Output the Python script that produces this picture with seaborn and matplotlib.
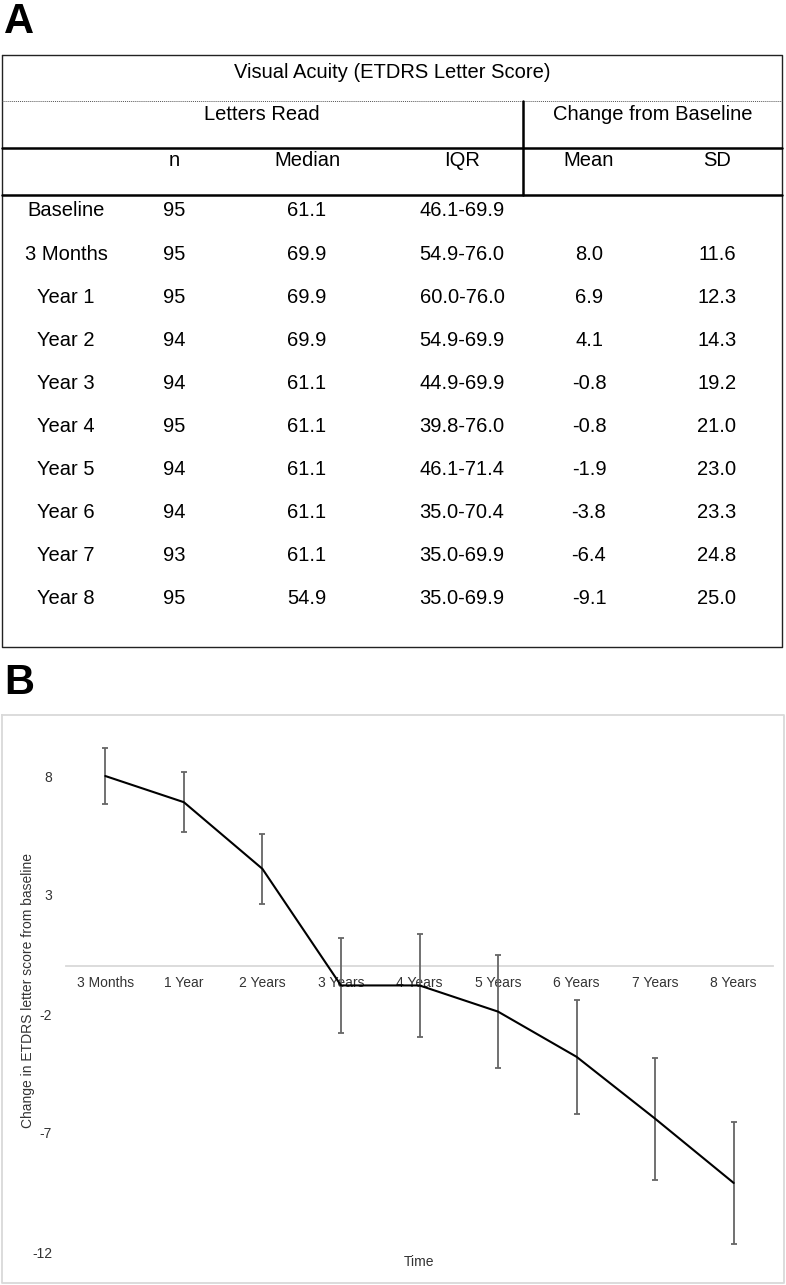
import numpy as np
import pandas as pd
import matplotlib
matplotlib.use("Agg")
import matplotlib.pyplot as plt
import seaborn as sns

# table data (panel A)
zile = ["Baseline", "3 Months", "Year 1", "Year 2", "Year 3", "Year 4",
        "Year 5", "Year 6", "Year 7", "Year 8"]
n_pac = [95, 95, 95, 94, 94, 95, 94, 94, 93, 95]
mediana = [61.1, 69.9, 69.9, 69.9, 61.1, 61.1, 61.1, 61.1, 61.1, 54.9]
iqr = ["46.1-69.9", "54.9-76.0", "60.0-76.0", "54.9-69.9", "44.9-69.9",
       "39.8-76.0", "46.1-71.4", "35.0-70.4", "35.0-69.9", "35.0-69.9"]
medie_dif = [None, 8.0, 6.9, 4.1, -0.8, -0.8, -1.9, -3.8, -6.4, -9.1]
sd_dif = [None, 11.6, 12.3, 14.3, 19.2, 21.0, 23.0, 23.3, 24.8, 25.0]

# chart data (panel B)
etichete_timp = ["3 Months", "1 Year", "2 Years", "3 Years", "4 Years",
                 "5 Years", "6 Years", "7 Years", "8 Years"]
schimbare = [8.0, 6.9, 4.1, -0.8, -0.8, -1.9, -3.8, -6.4, -9.1]
eroare_std = [1.19, 1.26, 1.47, 1.98, 2.15, 2.37, 2.40, 2.57, 2.56]

W, H = 786, 1285

sns.set_style("white")
plt.rcParams["font.family"] = ["Liberation Sans", "DejaVu Sans"]
plt.rcParams["axes.unicode_minus"] = False
plt.rcParams["text.color"] = "black"

fig = plt.figure(figsize=(W / 100, H / 100), dpi=100)

# background axes in pixel coordinates: table + panel labels
ax = fig.add_axes([0, 0, 1, 1])
ax.set_xlim(0, W)
ax.set_ylim(H, 0)
ax.axis("off")

ax.text(4, 22, "A", fontsize=30, fontweight="bold", va="center", ha="left")
ax.text(4, 683, "B", fontsize=30, fontweight="bold", va="center", ha="left")

x0, x1 = 1.5, 782
y_top, y_bot = 55, 647
ax.plot([x0, x1, x1, x0, x0], [y_top, y_top, y_bot, y_bot, y_top],
        color="#222222", lw=1.0)
ax.plot([x0, x1], [101, 101], color="#555555", lw=0.7, ls=(0, (1, 1)))
ax.plot([x0, x1], [148, 148], color="black", lw=1.8)
ax.plot([x0, x1], [195, 195], color="black", lw=1.8)
ax.plot([523, 523], [101, 195], color="black", lw=1.8)

fs = 14.5
ax.text(392, 72, "Visual Acuity (ETDRS Letter Score)", fontsize=fs,
        ha="center", va="center")
ax.text(262, 115, "Letters Read", fontsize=fs, ha="center", va="center")
ax.text(653, 115, "Change from Baseline", fontsize=fs, ha="center", va="center")

col_x = [66, 174, 307, 462, 589, 717]
antet = ["", "n", "Median", "IQR", "Mean", "SD"]
for cx, t in zip(col_x, antet):
    ax.text(cx, 161, t, fontsize=fs, ha="center", va="center")

for i in range(len(zile)):
    yy = 211 + i * 43.1
    valori = [zile[i], str(n_pac[i]), f"{mediana[i]:.1f}", iqr[i],
              "" if medie_dif[i] is None else f"{medie_dif[i]:.1f}",
              "" if sd_dif[i] is None else f"{sd_dif[i]:.1f}"]
    for cx, t in zip(col_x, valori):
        ax.text(cx, yy, t, fontsize=fs, ha="center", va="center")

# chart frame
ax.plot([2, 784, 784, 2, 2], [715, 715, 1283, 1283, 715],
        color="#d9d9d9", lw=1.3)

# panel B chart
ymin, ymax = -12, 10
pix_jos, pix_unit = 1252, 23.8
pix_sus = pix_jos - (ymax - ymin) * pix_unit
ax2 = fig.add_axes([66 / W, 1 - pix_jos / H, (773 - 66) / W,
                    (pix_jos - pix_sus) / H])
ax2.patch.set_alpha(0)

df = pd.DataFrame({"Time": np.arange(len(etichete_timp)),
                   "Change": schimbare, "SE": eroare_std})

ax2.errorbar(df["Time"], df["Change"], yerr=df["SE"], fmt="none",
             ecolor="#666666", elinewidth=1.3, capsize=2.5, capthick=1.3,
             zorder=3)
sns.lineplot(data=df, x="Time", y="Change", color="black", lw=1.5,
             ax=ax2, zorder=4)

ax2.set_xlim(-0.5, len(etichete_timp) - 0.5)
ax2.set_ylim(ymin, ymax)
ax2.set_xticks(df["Time"])
ax2.set_xticklabels(etichete_timp)
ax2.set_yticks([-12, -7, -2, 3, 8])
ax2.tick_params(axis="x", length=0, pad=7, labelsize=10, labelcolor="#333333")
ax2.tick_params(axis="y", length=0, pad=10, labelsize=10, labelcolor="#333333")

for s in ["top", "right", "left"]:
    ax2.spines[s].set_visible(False)
ax2.spines["bottom"].set_position(("data", 0))
ax2.spines["bottom"].set_color("#d9d9d9")
ax2.spines["bottom"].set_linewidth(1.3)
ax2.spines["bottom"].set_zorder(1)

ax2.set_xlabel("")
ax2.set_ylabel("Change in ETDRS letter score from baseline", fontsize=10,
               color="#333333", labelpad=6)
ax2.yaxis.set_label_coords(-31 / 707, 0.5)
ax.text(419, 1262, "Time", fontsize=10, color="#333333",
        ha="center", va="center")

fig.savefig("out.png", dpi=100)
